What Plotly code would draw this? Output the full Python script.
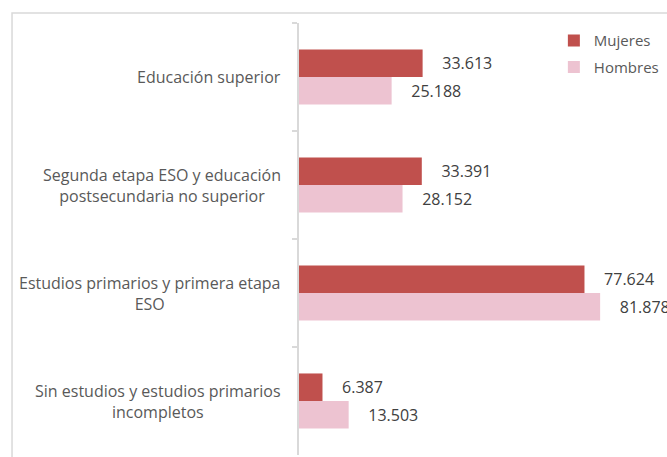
import plotly.graph_objects as go

categories = [
    "Educación superior",
    "Segunda etapa ESO y educación<br>postsecundaria no superior",
    "Estudios primarios y primera etapa<br>ESO",
    "Sin estudios y estudios primarios<br>incompletos",
]
mujeres = [33613, 33391, 77624, 6387]
hombres = [25188, 28152, 81878, 13503]

C_MUJ = "#C0504D"
C_HOM = "#EDC3D1"
FONT = "Open Sans"

fig = go.Figure()
fig.add_trace(go.Bar(
    y=categories, x=mujeres, orientation="h", name="Mujeres",
    marker=dict(color=C_MUJ, line=dict(width=0)),
    texttemplate="\u00a0\u00a0\u00a0\u00a0%{x:,}", textposition="outside",
    textfont=dict(family=FONT, size=16, color="#404040"),
    cliponaxis=False, legendgroup="m",
))
fig.add_trace(go.Bar(
    y=categories, x=hombres, orientation="h", name="Hombres",
    marker=dict(color=C_HOM, line=dict(width=0)),
    texttemplate="\u00a0\u00a0\u00a0\u00a0%{x:,}", textposition="outside",
    textfont=dict(family=FONT, size=16, color="#404040"),
    cliponaxis=False, legendgroup="h",
))

for c in categories:
    fig.add_annotation(
        x=0, xref="paper", y=c, yref="y", text=c, showarrow=False,
        xanchor="right", align="center", xshift=-16,
        font=dict(family=FONT, size=16, color="#595959"),
    )

fig.add_shape(type="rect", xref="paper", yref="paper",
              x0=-0.867, x1=1.3, y0=-0.2, y1=1.023,
              line=dict(color="#D9D9D9", width=1.5), fillcolor="rgba(0,0,0,0)",
              layer="below")

fig.update_layout(
    width=667, height=457,
    margin=dict(l=299, r=37, t=23, b=2, autoexpand=False),
    paper_bgcolor="white", plot_bgcolor="white",
    barmode="group", bargap=0.49, bargroupgap=0,
    separators=",.",
    font=dict(family=FONT, color="#595959"),
    showlegend=True,
    legend=dict(x=0.77, y=0.997, xanchor="left", yanchor="top",
                traceorder="grouped", tracegroupgap=4,
                font=dict(family=FONT, size=15, color="#595959"),
                bgcolor="rgba(0,0,0,0)"),
    xaxis=dict(range=[0, 90000], showgrid=False, zeroline=False,
               showticklabels=False, showline=False, ticks=""),
    yaxis=dict(type="category", categoryorder="array", categoryarray=categories,
               autorange="reversed", showgrid=False, zeroline=False,
               showline=True, linecolor="#D9D9D9", linewidth=1.5,
               ticks="outside", tickson="boundaries", ticklen=5,
               tickcolor="#D9D9D9", tickwidth=1.5, showticklabels=False),
)

fig.write_html("out.html", config={"displayModeBar": False},
               post_script="document.body.style.margin='0';document.body.style.overflow='hidden';")
